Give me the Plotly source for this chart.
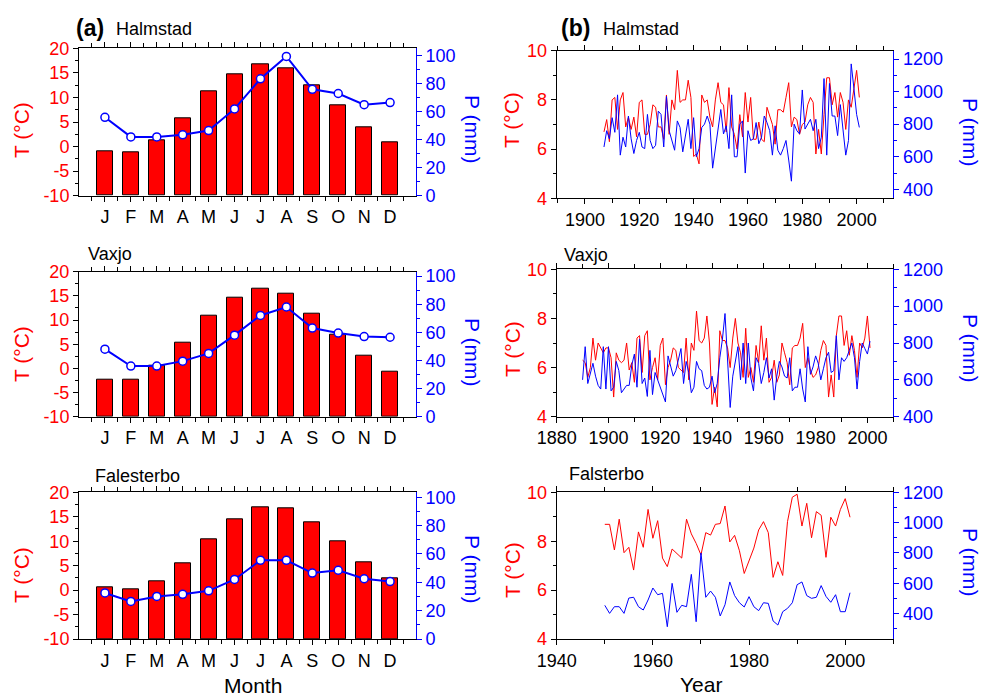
import plotly.graph_objects as go

W, H = 983, 697

# ---------------- data: monthly climatology (a) ----------------
months = ["J", "F", "M", "A", "M", "J", "J", "A", "S", "O", "N", "D"]
month_idx = [1, 2, 3, 4, 5, 6, 7, 8, 9, 10, 11, 12]
t_ticks = [-10, -5, 0, 5, 10, 15, 20]
t_ticktext = ["-10", "-5", "0", "5", "10", "15", "20"]

halm_T_month = [-1.0, -1.2, 1.3, 5.7, 11.2, 14.8, 16.7, 15.9, 12.5, 8.3, 3.9, 0.9]
halm_P_month = [56, 42, 42, 43.5, 46.5, 62, 83.5, 99.5, 76, 73, 65, 66.5]
vax_T_month = [-2.3, -2.3, 0.5, 5.3, 10.9, 14.6, 16.5, 15.4, 11.3, 6.9, 2.6, -0.7]
vax_P_month = [48, 36, 36, 39.5, 45, 58, 72, 78, 63, 59.5, 57, 56.5]
fal_T_month = [0.6, 0.1, 1.8, 5.4, 10.3, 14.5, 16.9, 16.8, 13.9, 9.9, 5.7, 2.5]
fal_P_month = [32.5, 26.5, 30, 31.5, 34, 42, 55.5, 55.5, 46.5, 48.5, 42.5, 40.5]

# ---------------- data: annual series (b) ----------------
halm_years = list(range(1907, 2002))
halm_T_year = [6.7, 7.2, 6.3, 8.0, 8.1, 6.8, 8.0, 8.3, 6.9, 7.3,
               6.8, 7.3, 6.5, 7.9, 8.0, 6.6, 6.6, 7.0, 7.8, 7.7,
               6.9, 6.9, 6.4, 8.2, 6.6, 8.0, 7.6, 9.2, 7.9, 8.0,
               8.0, 8.8, 8.1, 5.7, 5.8, 5.4, 8.2, 7.9, 8.0, 7.3,
               6.9, 8.0, 8.7, 7.9, 7.8, 6.7, 8.5, 6.9, 6.6, 6.0,
               7.4, 6.5, 8.3, 7.1, 8.1, 6.4, 6.4, 7.1, 6.4, 6.3,
               7.7, 7.3, 7.0, 6.2, 7.6, 7.6, 7.5, 8.1, 8.7, 6.9,
               7.3, 7.2, 6.6, 7.0, 7.1, 7.8, 8.1, 7.9, 5.8, 6.8,
               5.8, 7.4, 8.9, 8.9, 7.8, 8.3, 7.3, 8.3, 7.9, 6.8,
               8.0, 7.7, 8.5, 9.2, 8.1]
halm_P_year = [660, 760, 710, 840, 750, 980, 610, 720, 660, 850,
               710, 620, 700, 750, 660, 650, 860, 700, 650, 670,
               880, 860, 660, 970, 760, 700, 640, 820, 780, 630,
               720, 830, 650, 840, 600, 650, 780, 800, 850, 800,
               530, 650, 780, 890, 740, 790, 650, 980, 600, 600,
               800, 820, 500, 760, 700, 710, 810, 680, 720, 850,
               810, 760, 610, 790, 640, 610, 650, 700, 580, 450,
               800, 760, 740, 1010, 770, 800, 830, 760, 830, 650,
               720, 1080, 610, 1050, 850, 850, 730, 920, 750, 610,
               700, 1170, 1020, 860, 780]

vax_years = list(range(1890, 2002))
vax_T_year = [6.3, 6.2, 5.6, 6.0, 7.2, 6.3, 7.0, 6.8, 6.6, 6.8,
              6.8, 6.4, 4.8, 6.6, 6.3, 6.2, 6.3, 7.0, 5.9, 6.2,
              5.4, 7.2, 7.3, 5.8, 7.3, 7.5, 5.5, 6.0, 6.4, 5.5,
              6.9, 7.2, 5.3, 6.0, 6.3, 6.8, 6.7, 6.0, 5.9, 5.8,
              7.2, 5.5, 7.0, 6.7, 8.3, 7.1, 7.0, 7.2, 8.1, 7.0,
              4.5, 5.2, 4.4, 7.5, 7.1, 7.1, 6.8, 6.0, 7.2, 8.0,
              7.0, 6.6, 5.6, 7.6, 5.6, 6.0, 5.4, 6.9, 6.2, 7.7,
              6.3, 7.2, 5.4, 5.6, 6.3, 5.4, 5.7, 7.0, 6.6, 6.2,
              5.3, 6.8, 6.9, 6.9, 7.2, 7.8, 6.0, 6.4, 5.9, 5.6,
              5.7, 6.0, 6.7, 7.1, 6.9, 4.8, 5.7, 4.8, 7.3, 8.1,
              8.1, 6.9, 7.5, 6.5, 7.3, 6.7, 5.6, 7.0, 6.8, 7.2,
              8.1, 6.8]
vax_P_year = [600, 780, 580, 640, 690, 620, 570, 550, 780, 550,
              780, 540, 560, 700, 650, 530, 550, 570, 570, 680,
              740, 560, 820, 580, 610, 510, 760, 520, 640, 600,
              560, 530, 480, 730, 680, 620, 650, 710, 770, 580,
              700, 640, 530, 560, 700, 660, 650, 570, 550, 560,
              620, 530, 580, 720, 820, 960, 680, 450, 620, 700,
              780, 600, 800, 580, 800, 610, 540, 720, 690, 580,
              640, 720, 610, 660, 490, 620, 700, 670, 620, 610,
              720, 540, 560, 560, 660, 550, 480, 780, 630, 670,
              730, 690, 600, 660, 720, 750, 640, 650, 840, 600,
              720, 700, 720, 760, 800, 720, 550, 700, 800, 770,
              740, 810]

fal_years = list(range(1950, 2002))
fal_T_year = [8.69, 8.69, 7.64, 8.9, 7.53, 7.75, 6.82, 8.38, 7.75, 9.3,
              8.12, 8.84, 7.31, 6.96, 7.68, 7.48, 7.31, 8.9, 8.3, 7.91,
              7.44, 8.35, 8.25, 8.69, 8.72, 9.44, 7.97, 8.24, 7.61, 6.68,
              7.23, 7.72, 8.46, 8.8, 8.35, 6.52, 7.16, 6.6, 8.8, 9.8,
              9.92, 8.62, 9.55, 8.14, 9.21, 9.06, 7.34, 8.98, 8.62, 9.3,
              9.74, 8.98]
fal_P_year = [455, 402, 446, 446, 402, 503, 508, 446, 424, 490,
              569, 525, 534, 314, 600, 409, 455, 446, 659, 347,
              800, 508, 549, 508, 385, 459, 609, 519, 472, 444,
              512, 446, 420, 472, 468, 352, 325, 413, 435, 472,
              591, 609, 519, 501, 508, 585, 514, 475, 525, 413,
              413, 538]

# ---------------- styling ----------------
RED = "#ff0000"
BLUE = "#0000ff"
FONT = "Arial, Liberation Sans, sans-serif"
TICK = 18
TITLE = 21

def px_x(p):
    return p / W

def px_y(p):
    return 1 - p / H

# panel boxes in pixels: (left, right, top, bottom)
boxes = [
    (79, 416, 48.3, 195.7),
    (79, 416, 271.7, 416.7),
    (79, 416, 492.3, 639),
    (556.7, 893.3, 50.7, 198.3),
    (556.7, 893.3, 269.3, 416.7),
    (556.7, 893.3, 492.3, 639),
]

p_ranges = [[0, 105.3], [0, 103.1], [0, 103.5], [345, 1251], [400, 1200], [233, 1200]]
x_ranges_b = [[1889.6, 2013.5], [1880, 2010], [1940, 2010]]

def ak(prefix, n):
    return prefix if n == 1 else f"{prefix}{n}"

fig = go.Figure()

monthly = [(halm_T_month, halm_P_month), (vax_T_month, vax_P_month), (fal_T_month, fal_P_month)]
annual = [(halm_years, halm_T_year, halm_P_year),
          (vax_years, vax_T_year, vax_P_year),
          (fal_years, fal_T_year, fal_P_year)]

for i, (T, P) in enumerate(monthly):
    n = i + 1
    fig.add_trace(go.Bar(
        x=month_idx, y=[t + 10 for t in T], base=-10, width=0.62,
        marker=dict(color=RED, line=dict(color="#000000", width=1)),
        xaxis=ak("x", n), yaxis=ak("y", n), showlegend=False))
    fig.add_trace(go.Scatter(
        x=month_idx, y=P, mode="lines+markers",
        line=dict(color=BLUE, width=2),
        marker=dict(color="white", size=8, line=dict(color=BLUE, width=1.5)),
        xaxis=ak("x", n), yaxis=ak("y", n + 6), showlegend=False))

for i, (yrs, T, P) in enumerate(annual):
    n = i + 4
    fig.add_trace(go.Scatter(
        x=yrs, y=T, mode="lines", line=dict(color=RED, width=1),
        xaxis=ak("x", n), yaxis=ak("y", n), showlegend=False))
    fig.add_trace(go.Scatter(
        x=yrs, y=P, mode="lines", line=dict(color=BLUE, width=1),
        xaxis=ak("x", n), yaxis=ak("y", n + 6), showlegend=False))

layout = dict(
    width=W, height=H, autosize=False,
    margin=dict(l=0, r=0, t=0, b=0, pad=0, autoexpand=False),
    paper_bgcolor="white", plot_bgcolor="white",
    font=dict(family=FONT, color="black"),
    bargap=0, showlegend=False,
)

for k, (l, r, t, b) in enumerate(boxes):
    n = k + 1
    xd = [px_x(l), px_x(r)]
    yd = [px_y(b), px_y(t)]
    xa = dict(domain=xd, anchor=ak("y", n), showline=True, linecolor="black", linewidth=1,
              mirror="ticks", ticks="outside", ticklen=5, tickcolor="black",
              showgrid=False, zeroline=False, automargin=False,
              tickfont=dict(size=TICK, color="black", family=FONT))
    if n <= 3:
        xa.update(range=[0, 13], tickmode="array", tickvals=month_idx, ticktext=months,
                  minor=dict(tickvals=[m + 0.5 for m in [0] + month_idx], ticklen=4,
                             ticks="outside", tickcolor="black"))
    else:
        xa.update(range=x_ranges_b[n - 4], dtick=20, tick0=1880,
                  minor=dict(dtick=10, ticklen=4, ticks="outside", tickcolor="black"))
    layout[ak("xaxis", n)] = xa

    ya = dict(domain=yd, anchor=ak("x", n), showline=True, linecolor="black", linewidth=1,
              ticks="outside", ticklen=5, tickcolor="black", showgrid=False, zeroline=False,
              automargin=False,
              tickfont=dict(size=TICK, color=RED, family=FONT))
    if n <= 3:
        ya.update(range=[-10, 20], tickmode="array", tickvals=t_ticks, ticktext=t_ticktext,
                  minor=dict(dtick=2.5, ticklen=3, ticks="outside", tickcolor="black"))
    else:
        ya.update(range=[4, 10], dtick=2, minor=dict(dtick=1, ticklen=3, ticks="outside",
                                                      tickcolor="black"))
    layout[ak("yaxis", n)] = ya

    yr = dict(overlaying=ak("y", n), anchor=ak("x", n), side="right", range=p_ranges[k],
              showline=True, linecolor=BLUE, linewidth=1, ticks="outside", ticklen=5,
              tickcolor=BLUE, showgrid=False, zeroline=False, automargin=False,
              tickfont=dict(size=TICK, color=BLUE, family=FONT))
    if n <= 3:
        yr.update(dtick=20, minor=dict(dtick=10, ticklen=3, ticks="outside", tickcolor=BLUE))
    else:
        yr.update(dtick=200, tick0=0, minor=dict(dtick=100, ticklen=3, ticks="outside",
                                                  tickcolor=BLUE))
    layout[ak("yaxis", n + 6)] = yr

ann = []

def add_text(text, x, y, size, color="black", angle=0, xanchor="center"):
    ann.append(dict(text=text, x=px_x(x), y=px_y(y), xref="paper", yref="paper",
                    showarrow=False, textangle=angle, xanchor=xanchor, yanchor="middle",
                    font=dict(size=size, color=color, family=FONT)))

# panel labels
add_text("<b>(a)</b>", 74, 28, 23, xanchor="left")
add_text("Halmstad", 114, 29, 18, xanchor="left")
add_text("Vaxjo", 86, 254, 18, xanchor="left")
add_text("Falesterbo", 93, 476, 18, xanchor="left")
add_text("<b>(b)</b>", 559, 28, 23, xanchor="left")
add_text("Halmstad", 601, 29, 18, xanchor="left")
add_text("Vaxjo", 562, 255, 18, xanchor="left")
add_text("Falsterbo", 567, 474, 18, xanchor="left")

# axis titles
for yc in [130, 354, 575]:
    add_text("T (°C)", 21, yc, TITLE, RED, -90)
for yc in [129, 352, 569]:
    add_text("P (mm)", 473, yc, TITLE, BLUE, 90)
for yc in [120, 349, 570]:
    add_text("T (°C)", 512, yc, TITLE, RED, -90)
for yc in [132, 348, 562]:
    add_text("P (mm)", 971, yc, TITLE, BLUE, 90)

add_text("Month", 253, 685, TITLE)
add_text("Year", 701, 684, TITLE)

layout["annotations"] = ann
fig.update_layout(**layout)

fig.write_html("out.html")
